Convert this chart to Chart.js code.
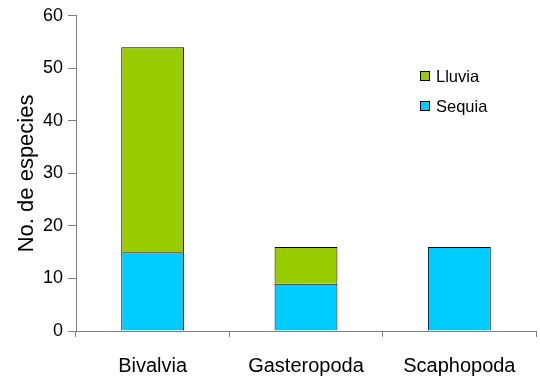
<!DOCTYPE html>
<html>
<head>
<meta charset="utf-8">
<script src="https://cdn.jsdelivr.net/npm/chart.js@4/dist/chart.umd.min.js"></script>
<style>
  html, body { margin: 0; padding: 0; background: #fff; }
  #wrap { width: 540px; height: 382px; }
</style>
</head>
<body>
<div id="wrap"><canvas id="barEspecies" width="540" height="382"></canvas></div>
<script>
// data
const grupos = ["Bivalvia", "Gasteropoda", "Scaphopoda"];
const sequia = [15, 9, 16];
const lluvia = [39, 7, 0];
const yTicks = [0, 10, 20, 30, 40, 50, 60];

const FONT = "'Liberation Sans', Arial, sans-serif";
const AXIS = "#808080";

// simple legend drawn inside the plot, top series first
const boxLegend = {
  id: "boxLegend",
  afterDraw(chart, args, opts) {
    const ctx = chart.ctx;
    const sets = chart.data.datasets.slice().reverse();
    ctx.save();
    ctx.font = "16.5px " + FONT;
    ctx.textBaseline = "middle";
    sets.forEach((ds, i) => {
      const y = opts.y + i * opts.gap;
      ctx.fillStyle = ds.backgroundColor;
      ctx.fillRect(opts.x, y - 5, 10, 10);
      ctx.strokeStyle = "#000";
      ctx.lineWidth = 1;
      ctx.strokeRect(opts.x + 0.5, y - 4.5, 9, 9);
      ctx.fillStyle = "#000";
      ctx.fillText(ds.label, opts.x + 16, y + 1);
    });
    ctx.restore();
  }
};

(function(){
  const ctx = document.getElementById("barEspecies"); if(!ctx) return;
  new Chart(ctx, {
    type: "bar",
    data: {
      labels: grupos,
      datasets: [
        { label: "Sequia", data: sequia, backgroundColor: "#00CCFF", borderColor: "#000", borderWidth: 1, borderSkipped: "bottom" },
        { label: "Lluvia", data: lluvia, backgroundColor: "#99CC00", borderColor: "#000", borderWidth: 1, borderSkipped: "bottom" }
      ]
    },
    options: {
      responsive: false,
      animation: false,
      layout: { padding: { top: 15, right: 4, left: 0, bottom: 0 } },
      datasets: { bar: { categoryPercentage: 1, barPercentage: 0.41 } },
      plugins: {
        legend: { display: false },
        tooltip: { enabled: false },
        boxLegend: { x: 420, y: 76, gap: 30 }
      },
      scales: {
        x: {
          stacked: true,
          offset: true,
          grid: { offset: true, drawOnChartArea: false, drawTicks: true, tickLength: 6, color: AXIS },
          border: { color: AXIS, width: 1 },
          ticks: { color: "#000", font: { family: FONT, size: 20 }, padding: 17, maxRotation: 0 },
          afterFit(s) { s.height = 51; }
        },
        y: {
          stacked: true,
          min: 0, max: 60,
          afterBuildTicks(s) { s.ticks = yTicks.map(v => ({ value: v })); },
          grid: { drawOnChartArea: false, drawTicks: true, tickLength: 8, color: AXIS },
          border: { color: AXIS, width: 1 },
          ticks: { color: "#000", font: { family: FONT, size: 18 }, padding: 5 },
          title: { display: true, text: "No. de especies", color: "#000", font: { family: FONT, size: 22 }, padding: { top: 14, bottom: 0 } },
          afterFit(s) { s.width = 76; }
        }
      }
    },
    plugins: [boxLegend]
  });
})();
</script>
</body>
</html>
